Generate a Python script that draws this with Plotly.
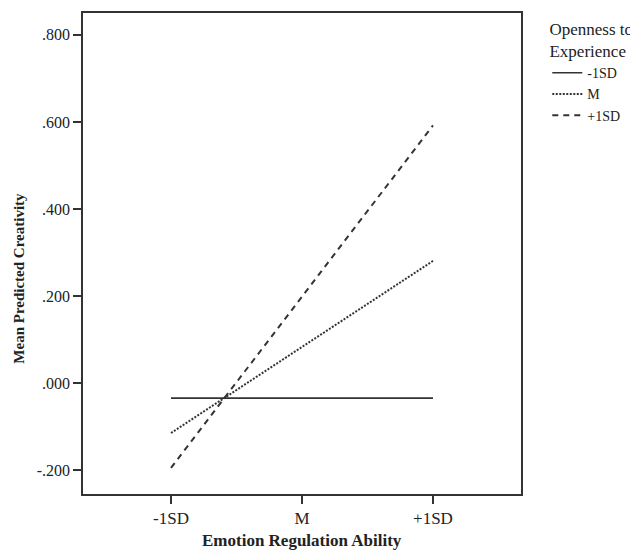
import plotly.graph_objects as go

categories = ["-1SD", "M", "+1SD"]
series_names = ["-1SD", "M", "+1SD"]
low_openness = [-0.034, -0.034, -0.034]
mean_openness = [-0.114, 0.0835, 0.281]
high_openness = [-0.194, 0.199, 0.592]
y_tick_vals = [-0.2, 0.0, 0.2, 0.4, 0.6, 0.8]
y_tick_text = ["-.200", ".000", ".200", ".400", ".600", ".800"]

FONT = "Liberation Serif"
INK = "#333333"
TXT = "#222222"

fig = go.Figure()
fig.add_trace(go.Scatter(x=categories, y=low_openness, mode="lines", name=series_names[0],
                         line=dict(color=INK, width=1.6, dash="solid")))
fig.add_trace(go.Scatter(x=categories, y=mean_openness, mode="lines", name=series_names[1],
                         line=dict(color=INK, width=2, dash="2px,1.5px")))
fig.add_trace(go.Scatter(x=categories, y=high_openness, mode="lines", name=series_names[2],
                         line=dict(color=INK, width=2, dash="6px,5px")))

fig.update_layout(
    width=630, height=542,
    margin=dict(l=75, r=117, t=3, b=56),
    paper_bgcolor="white", plot_bgcolor="white",
    font=dict(family=FONT, size=15, color=TXT),
    showlegend=True,
    legend=dict(
        x=1.06, y=1.0, xanchor="left", yanchor="top",
        title=dict(text="Openness to<br>Experience", side="top center",
                   font=dict(family=FONT, size=17, color=TXT)),
        font=dict(family=FONT, size=14, color=TXT),
        tracegroupgap=0, itemwidth=30,
        bgcolor="rgba(0,0,0,0)",
    ),
    xaxis=dict(
        type="category", range=[-0.672, 2.672],
        showgrid=False, zeroline=False,
        showline=True, linecolor=INK, linewidth=1.6, mirror=True,
        ticks="outside", ticklen=8, tickcolor=INK, tickwidth=1.5,
        tickfont=dict(family=FONT, size=17, color=TXT),
    ),
    yaxis=dict(
        range=[-0.254, 0.850],
        tickvals=y_tick_vals, ticktext=y_tick_text,
        showgrid=False, zeroline=False,
        showline=True, linecolor=INK, linewidth=1.6, mirror=True,
        ticks="outside", ticklen=8, tickcolor=INK, tickwidth=1.5,
        tickfont=dict(family=FONT, size=16, color=TXT),
    ),
    annotations=[
        dict(text="<b>Emotion Regulation Ability</b>", xref="paper", yref="paper",
             x=0.5, y=-0.097, xanchor="center", yanchor="middle", showarrow=False,
             font=dict(family=FONT, size=17, color=TXT)),
        dict(text="<b>Mean Predicted Creativity</b>", xref="paper", yref="paper",
             x=-0.148, y=0.448, xanchor="center", yanchor="middle", showarrow=False,
             textangle=-90, font=dict(family=FONT, size=15, color=TXT)),
    ],
)

fig.write_html("out.html")
